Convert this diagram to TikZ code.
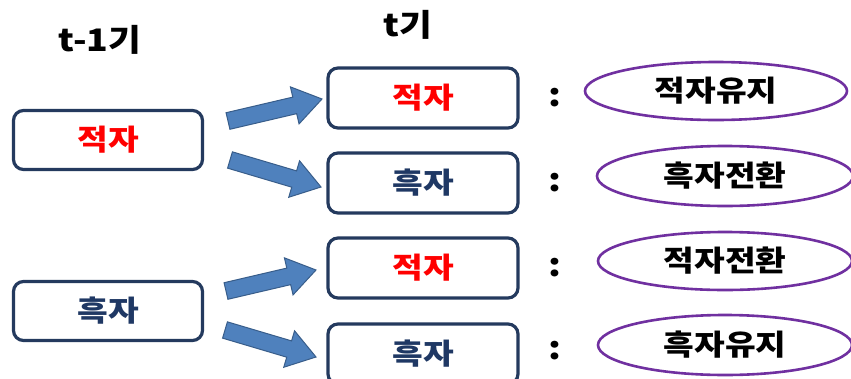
\documentclass[tikz,border=0pt]{standalone}
\usepackage{fontspec}
\setmainfont{Noto Sans CJK KR}[FakeStretch=1.15]
\usetikzlibrary{calc,shapes.geometric}
\definecolor{boxline}{HTML}{243A5E}
\definecolor{kred}{HTML}{FF0000}
\definecolor{knavy}{HTML}{1F3864}
\definecolor{ellline}{HTML}{7030A0}
\definecolor{arrfill}{HTML}{4F81BD}
\definecolor{arrline}{HTML}{385D8A}
\tikzset{
  statebox/.style={draw=boxline, line width=3.2pt, rounded corners=10pt, fill=white,
    minimum width=189pt, minimum height=59pt, inner sep=0pt, font=\fontsize{29}{33}\selectfont\bfseries},
  resell/.style={ellipse, draw=ellline, line width=2.6pt, fill=white, inner sep=0pt,
    font=\fontsize{29}{33}\selectfont\bfseries},
  head/.style={font=\fontsize{31}{36}\selectfont\bfseries, inner sep=0pt},
  colon/.style={font=\fontsize{32}{36}\selectfont\bfseries, inner sep=0pt},
  blk/.style={fill=arrfill, draw=arrline, line width=1pt, line join=miter}
}
\newcommand\blockarrow[2]{%
  \coordinate (hb) at ($(#2)!28pt!(#1)$);
  \filldraw[blk] ($(#1)!8.5pt!90:(#2)$) -- ($(hb)!8.5pt!90:(#2)$) -- ($(hb)!19pt!90:(#2)$)
    -- (#2) -- ($(hb)!19pt!-90:(#2)$) -- ($(hb)!8.5pt!-90:(#2)$) -- ($(#1)!8.5pt!-90:(#2)$) -- cycle;}
\begin{document}
\begin{tikzpicture}[x=1pt,y=-1pt]
\useasboundingbox[fill=white] (0,0) rectangle (851,378);
\node[head] (h1) at (100,40) {t-1기};
\node[head] (h2) at (408,25) {t기};

\node[statebox, text=kred] (l1) at (108,140) {적자};
\node[statebox, text=knavy] (l2) at (108,311) {흑자};

\node[statebox, minimum width=190pt, minimum height=60pt, text=kred] (r1) at (423,98) {적자};
\node[statebox, minimum width=190pt, minimum height=60pt, text=knavy] (r2) at (423,183) {흑자};
\node[statebox, minimum width=190pt, minimum height=60pt, text=kred] (r3) at (423,268) {적자};
\node[statebox, minimum width=190pt, minimum height=60pt, text=knavy] (r4) at (423,354) {흑자};

\node[colon] (c1) at (555,98) {:};
\node[colon] (c2) at (555,183) {:};
\node[colon] (c3) at (555,268) {:};
\node[colon] (c4) at (555,351) {:};

\node[resell, minimum width=262pt, minimum height=58pt] (e1) at (716,91) {적자유지};
\node[resell, minimum width=256pt, minimum height=60pt] (e2) at (725,176) {흑자전환};
\node[resell, minimum width=254pt, minimum height=58pt] (e3) at (725,261) {적자전환};
\node[resell, minimum width=254pt, minimum height=60pt] (e4) at (725,345) {흑자유지};

\coordinate (s1) at (228,121); \coordinate (t1) at (322,99);
\coordinate (s2) at (230,160); \coordinate (t2) at (321,187);
\coordinate (s3) at (226,291); \coordinate (t3) at (316,270);
\coordinate (s4) at (225,330); \coordinate (t4) at (316,357);
\blockarrow{s1}{t1}
\blockarrow{s2}{t2}
\blockarrow{s3}{t3}
\blockarrow{s4}{t4}
\end{tikzpicture}
\end{document}
